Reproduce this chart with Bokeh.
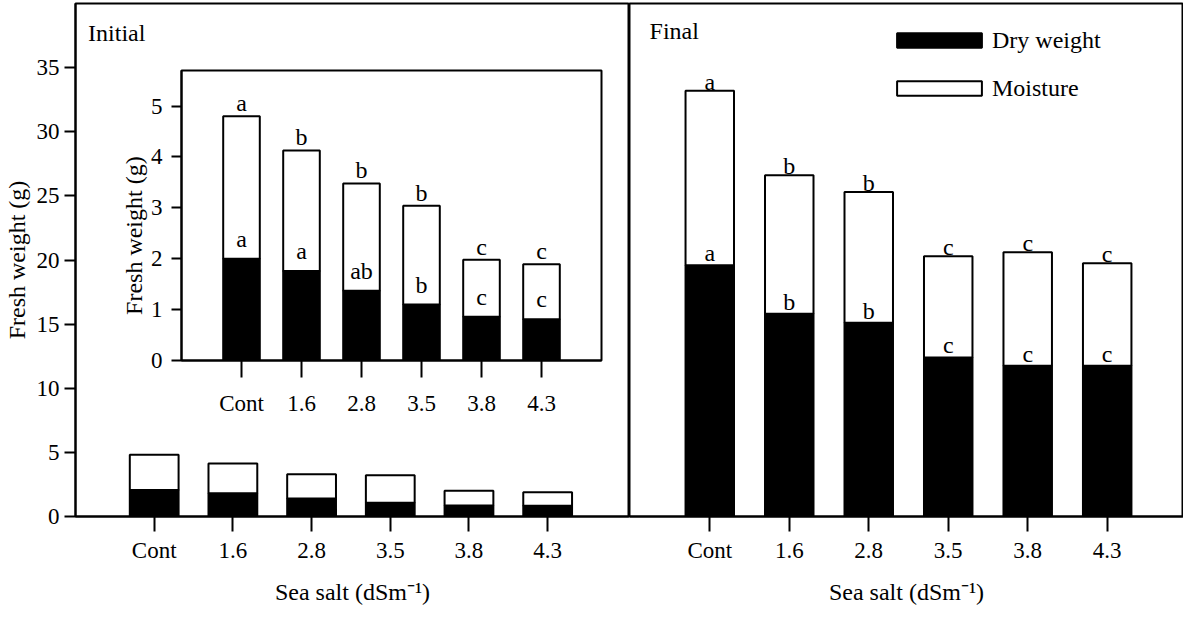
import numpy as np
from bokeh.plotting import figure
from bokeh.layouts import row
from bokeh.models import FixedTicker, Label, Legend, LegendItem, Range1d
from bokeh.core.properties import value
from bokeh.embed import file_html
from bokeh.resources import INLINE

# ---------------- data ----------------
categories = ["Cont", "1.6", "2.8", "3.5", "3.8", "4.3"]

initial_dry = [2.06, 1.81, 1.41, 1.07, 0.86, 0.83]
initial_moisture = [2.76, 2.33, 1.88, 2.15, 1.14, 1.07]

inset_dry = [2.00, 1.76, 1.37, 1.10, 0.86, 0.81]
inset_moisture = [2.80, 2.37, 2.11, 1.94, 1.12, 1.08]
inset_total_letters = ["a", "b", "b", "b", "c", "c"]
inset_dry_letters = ["a", "a", "ab", "b", "c", "c"]

final_dry = [19.6, 15.8, 15.1, 12.4, 11.75, 11.75]
final_moisture = [13.6, 10.8, 10.2, 7.9, 8.85, 8.0]
final_total_letters = ["a", "b", "b", "c", "c", "c"]
final_dry_letters = ["a", "b", "b", "c", "c", "c"]

main_y_ticks = [0, 5, 10, 15, 20, 25, 30, 35]
inset_y_ticks = [0, 1, 2, 3, 4, 5]

panel_titles = ["Initial", "Final"]
y_title = "Fresh weight (g)"
x_title = "Sea salt (dSm\u207b\u00b9)"
legend_labels = ["Dry weight", "Moisture"]

# ---------------- helpers ----------------
FONT = "Liberation Serif"
xs = list(range(len(categories)))
overrides = {i: c for i, c in enumerate(categories)}


def style_axis(ax, tick_out, standoff, label_standoff=5, font_size="23px"):
    ax.axis_line_width = 2
    ax.axis_line_color = "black"
    ax.major_tick_line_width = 2
    ax.major_tick_line_color = "black"
    ax.major_tick_out = tick_out
    ax.major_tick_in = 0
    ax.minor_tick_line_color = None
    ax.major_label_text_font = FONT
    ax.major_label_text_font_size = font_size
    ax.major_label_text_color = "black"
    ax.major_label_standoff = standoff
    ax.axis_label_text_font = FONT
    ax.axis_label_text_font_style = "normal"
    ax.axis_label_text_font_size = "24px"
    ax.axis_label_text_color = "black"
    ax.axis_label_standoff = label_standoff


def base_fig(**kw):
    p = figure(output_backend="svg", toolbar_location=None, **kw)
    p.grid.grid_line_color = None
    p.outline_line_color = "black"
    p.outline_line_width = 2
    p.outline_line_alpha = 1
    p.background_fill_color = "white"
    return p


def stacked(p, dry, moist, width):
    total = (np.array(dry) + np.array(moist)).tolist()
    r1 = p.vbar(x=xs, width=width, bottom=0, top=dry, fill_color="black",
                line_color="black", line_width=2)
    r2 = p.vbar(x=xs, width=width, bottom=dry, top=total, fill_color="white",
                line_color="black", line_width=2)
    return r1, r2, total


def letters(p, y, txt, dy):
    p.text(x=xs, y=y, text=txt, text_font=value(FONT), text_font_size="24px",
           text_align="center", text_baseline="alphabetic", y_offset=dy,
           text_color="black")


def text_label(p, x, y, text, angle=0.0, align="left", baseline="alphabetic"):
    p.add_layout(Label(x=x, y=y, text=text, angle=angle, text_font=FONT,
                       text_font_size="24px", text_align=align,
                       text_baseline=baseline, text_color="black"))


# ---------------- left (Initial) ----------------
left = base_fig(width=629, height=607, x_range=Range1d(-1.0, 6.04), y_range=Range1d(0, 40),
                min_border_left=72, min_border_right=0, min_border_top=1, min_border_bottom=88)
stacked(left, initial_dry, initial_moisture, 0.62)
left.xaxis.ticker = FixedTicker(ticks=xs)
left.xaxis.major_label_overrides = overrides
left.yaxis.ticker = FixedTicker(ticks=main_y_ticks)
style_axis(left.xaxis[0], 15, 6, 13)
style_axis(left.yaxis[0], 11, 5, 4)
for ax in (left.xaxis[0],):
    ax.major_label_text_line_height = 1.0
    ax.axis_label_text_line_height = 1.0
left.xaxis.axis_label = x_title
left.yaxis.axis_label = y_title
text_label(left, -0.84, 37.7, panel_titles[0])
# y title of the inset, drawn in the open area left of the inset frame
text_label(left, -0.26, 21.9, y_title, angle=np.pi / 2, align="center", baseline="middle")

# ---------------- right (Final) ----------------
right = base_fig(width=554, height=607, x_range=Range1d(-1.01, 5.96), y_range=Range1d(0, 40),
                 y_axis_location=None,
                 min_border_left=0, min_border_right=0, min_border_top=1, min_border_bottom=88)
r_dry, r_moist, final_total = stacked(right, final_dry, final_moisture, 0.61)
letters(right, final_total, final_total_letters, -9)
letters(right, final_dry, final_dry_letters, -12)
right.xaxis.ticker = FixedTicker(ticks=xs)
right.xaxis.major_label_overrides = overrides
style_axis(right.xaxis[0], 15, 6, 13)
right.xaxis[0].major_label_text_line_height = 1.0
right.xaxis[0].axis_label_text_line_height = 1.0
right.xaxis.axis_label = x_title
text_label(right, -0.758, 37.85, panel_titles[1])
legend = Legend(items=[LegendItem(label=legend_labels[0], renderers=[r_dry]),
                       LegendItem(label=legend_labels[1], renderers=[r_moist])],
                location=(257, 414), glyph_width=106, glyph_height=18, label_standoff=-7,
                spacing=20, padding=0, margin=0, border_line_color=None,
                background_fill_alpha=0, label_text_font=FONT, label_text_font_size="24px",
                label_height=28, label_text_color="black")
right.add_layout(legend)

# ---------------- inset ----------------
inset = base_fig(frame_width=420, frame_height=290,
                 x_range=Range1d(-1.0, 6.0), y_range=Range1d(0, 5.7),
                 min_border_left=66, min_border_right=3, min_border_top=3, min_border_bottom=58)
inset.border_fill_color = None
_, _, inset_total = stacked(inset, inset_dry, inset_moisture, 0.61)
letters(inset, inset_total, inset_total_letters, -13)
letters(inset, inset_dry, inset_dry_letters, -20)
inset.xaxis.ticker = FixedTicker(ticks=xs)
inset.xaxis.major_label_overrides = overrides
inset.yaxis.ticker = FixedTicker(ticks=inset_y_ticks)
style_axis(inset.xaxis[0], 17, 13)
style_axis(inset.yaxis[0], 10, 9, 5)
inset.styles = {"position": "absolute", "left": "115px", "top": "67px", "z-index": "10"}

p = row(left, right, inset)

open("out.html", "w").write(file_html(p, INLINE))
